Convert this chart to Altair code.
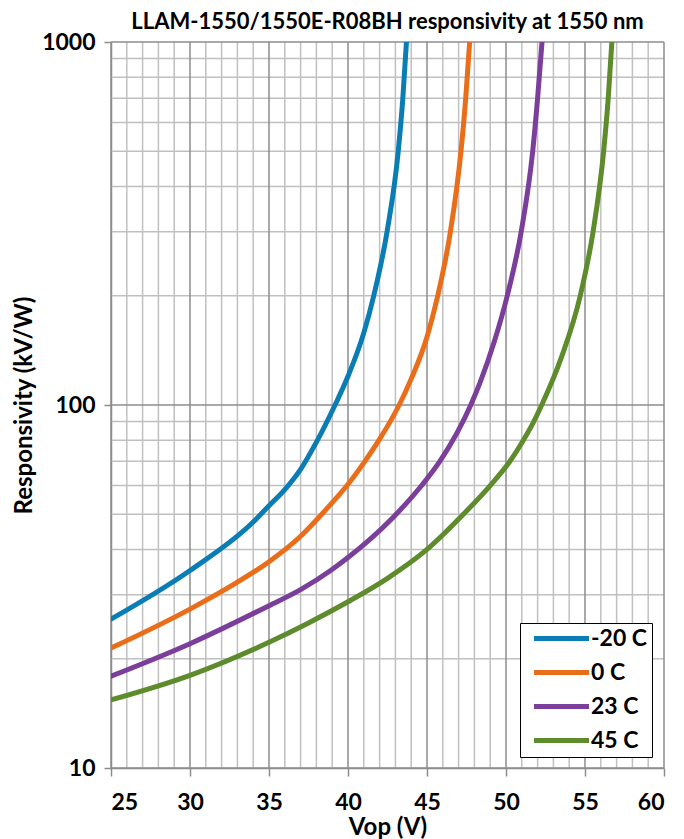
import altair as alt
import pandas as pd

series = ["-20 C", "0 C", "23 C", "45 C"]
colors = ["#0A7DB4", "#EA6E1A", "#7B3F9B", "#5E8B2B"]

vop_m20 = [25, 30, 34, 35, 36, 37, 38, 39.18, 40, 41, 41.63, 42.47, 43.18, 43.47, 43.7]
resp_m20 = [25.7, 35, 47.6, 52.8, 58.5, 66.5, 79, 100, 120, 158, 200, 300, 500, 700, 1000]

vop_0 = [25, 30, 33, 35, 37, 38.86, 40, 41, 42, 43.24, 44, 45, 45.68, 46.48, 47.15, 47.45, 47.7]
resp_0 = [21.4, 27.4, 32.5, 37.0, 43.5, 53, 60.5, 69.3, 80.5, 100, 118, 154, 200, 300, 500, 700, 1000]

vop_23 = [25, 30, 35, 37, 38.9, 40, 42.85, 44.66, 45.82, 47.77, 48.35, 49.27, 50.08, 50.96, 51.69, 52.0, 52.28]
resp_23 = [17.9, 22.0, 28.0, 31.0, 35, 38, 49, 60, 70, 100, 115, 150, 200, 300, 500, 700, 1000]

vop_45 = [25, 30, 35, 37.5, 40, 42.5, 45, 47.3, 49.0, 50.25, 51.1, 51.7, 52.26, 53.5, 54.7, 55.51, 56.18, 56.47, 56.7]
resp_45 = [15.4, 18.0, 22.2, 25.1, 28.7, 33.3, 40, 50, 60, 70, 80, 89, 100, 135, 200, 300, 500, 700, 1000]

x_major = [25, 30, 35, 40, 45, 50, 55, 60]
x_minor = [v for v in range(25, 61) if v % 5 != 0]
y_major = [10, 100, 1000]
y_minor = [20, 30, 40, 50, 60, 70, 80, 90, 200, 300, 400, 500, 600, 700, 800, 900]

FONT = "Lato"

rows = []
for name, xs, ys in [(series[0], vop_m20, resp_m20), (series[1], vop_0, resp_0),
                     (series[2], vop_23, resp_23), (series[3], vop_45, resp_45)]:
    for i, (a, b) in enumerate(zip(xs, ys)):
        rows.append({"series": name, "vop": a, "resp": b, "order": i})
df = pd.DataFrame(rows)

xscale = alt.Scale(domain=[25, 60], nice=False, zero=False)
yscale = alt.Scale(type="log", domain=[10, 1000], nice=False)

xaxis = alt.Axis(values=x_major, title="Vop (V)", grid=False, tickSize=8,
                 labelPadding=15, titlePadding=1)
yaxis = alt.Axis(values=y_major, format="d", title="Responsivity (kV/W)", grid=False,
                 tickSize=7, labelPadding=9, titlePadding=5)

minor_c = "#c0c0c0"
major_c = "#8c8c8c"

def vgrid(vals, color):
    return alt.Chart(pd.DataFrame({"v": vals})).mark_rule(color=color, strokeWidth=1.5).encode(
        x=alt.X("v:Q", scale=xscale, axis=xaxis))

def hgrid(vals, color):
    return alt.Chart(pd.DataFrame({"v": vals})).mark_rule(color=color, strokeWidth=1.5).encode(
        y=alt.Y("v:Q", scale=yscale, axis=yaxis))

lines = alt.Chart(df).mark_line(strokeWidth=5, strokeCap="round", interpolate="monotone", clip=True).encode(
    x=alt.X("vop:Q", scale=xscale, axis=xaxis),
    y=alt.Y("resp:Q", scale=yscale, axis=yaxis),
    color=alt.Color("series:N", scale=alt.Scale(domain=series, range=colors),
                    legend=alt.Legend(orient="none", legendX=409, legendY=581, title=None,
                                      symbolType="M-5,0L5,0", symbolSize=121, symbolStrokeWidth=5,
                                      symbolOffset=26, labelOffset=18,
                                      labelFontSize=23, labelFont=FONT, labelFontWeight="bold",
                                      labelColor="black", rowPadding=10, padding=4,
                                      strokeColor="black", fillColor="white")),
    order="order:Q",
)

chart = alt.layer(
    vgrid(x_minor, minor_c), hgrid(y_minor, minor_c),
    vgrid(x_major, major_c), hgrid(y_major, major_c),
    lines,
).properties(
    width=553, height=726,
    title=alt.Title("LLAM-1550/1550E-R08BH responsivity at 1550 nm", font=FONT, fontSize=22,
                    fontWeight="bold", color="black", anchor="middle", offset=-3),
    autosize=alt.AutoSizeParams(type="none"),
    padding={"left": 103, "top": 34, "right": 12, "bottom": 71},
).configure_axis(
    labelFont=FONT, labelFontSize=23, labelFontWeight="bold", labelColor="black",
    titleFont=FONT, titleFontSize=24, titleFontWeight="bold", titleColor="black",
    domainColor=major_c, domainWidth=1.5, tickColor=major_c, tickWidth=1.5,
).configure_view(stroke=None)

chart.save("out.html", embed_options={"renderer": "svg", "actions": False})
